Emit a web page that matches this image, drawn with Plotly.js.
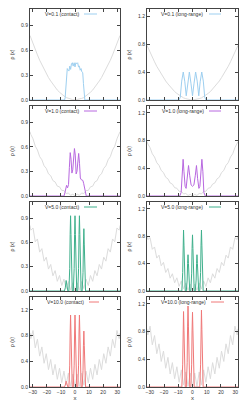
<!DOCTYPE html>
<html><head><meta charset="utf-8">
<script src="https://cdn.plot.ly/plotly-3.0.1.min.js"></script>
<style>html,body{margin:0;padding:0;background:#fff}#chart{width:247px;height:407px}</style>
</head><body><div id="chart"></div>
<script>
// ---- data ----
const xTicks = [-30, -20, -10, 0, 10, 20, 30];
const yTicksContact = [0, 0.3, 0.6, 0.9];
const yTicksLong = [0, 0.4, 0.8, 1.2];

// grey background potential (trap + lattice), sampled at lattice extrema
const potX = [-32, -31.42, -29.85, -28.27, -26.70, -25.13, -23.56, -21.99, -20.42, -18.85, -17.28, -15.71, -14.14, -12.57, -11.00, -9.42, -7.85, -6.28, -4.71, -3.14, -1.57, 0,
  1.57, 3.14, 4.71, 6.28, 7.85, 9.42, 11.00, 12.57, 14.14, 15.71, 17.28, 18.85, 20.42, 21.99, 23.56, 25.13, 26.70, 28.27, 29.85, 31.42, 32];
const potV01 = [.780, .752, .681, .609, .545, .481, .425, .369, .320, .271, .230, .188, .154, .120, .094, .068, .049, .030, .019, .008, .004, 0,
  .004, .008, .019, .030, .049, .068, .094, .120, .154, .188, .230, .271, .320, .369, .425, .481, .545, .609, .681, .752, .780];
const potV1 = [.786, .752, .699, .609, .563, .481, .443, .369, .338, .271, .248, .188, .172, .120, .112, .068, .067, .030, .037, .008, .022, 0,
  .022, .008, .037, .030, .067, .068, .112, .120, .172, .188, .248, .271, .338, .369, .443, .481, .563, .609, .699, .752, .786];
const potV5 = [.810, .752, .779, .609, .643, .481, .523, .369, .418, .271, .328, .188, .252, .120, .192, .068, .147, .030, .117, .008, .102, 0,
  .102, .008, .117, .030, .147, .068, .192, .120, .252, .188, .328, .271, .418, .369, .523, .481, .643, .609, .779, .752, .810];
const potV10 = [.841, .752, .879, .609, .743, .481, .623, .369, .518, .271, .428, .188, .352, .120, .292, .068, .247, .030, .217, .008, .202, 0,
  .202, .008, .217, .030, .247, .068, .292, .120, .352, .188, .428, .271, .518, .369, .623, .481, .743, .609, .879, .752, .841];

// densities
const rhoC01X = [-32, -7.4, -7.0, -6.5, -6.0, -5.5, -4.9, -4.3, -3.7, -3.1, -2.5, -1.9, -1.3, -0.6, 0, 0.6, 1.3, 1.9, 2.5, 3.1, 3.7, 4.3, 4.9, 5.5, 6.0, 6.5, 7.0, 7.4, 32];
const rhoC01Y = [0, 0, 0.03, 0.18, 0.33, 0.38, 0.36, 0.35, 0.41, 0.37, 0.44, 0.45, 0.41, 0.45, 0.40, 0.45, 0.44, 0.45, 0.40, 0.41, 0.36, 0.38, 0.34, 0.33, 0.20, 0.05, 0, 0, 0];

const rhoL01X = [-32, -9.5, -8.6, -7.6, -6.5, -5.4, -4.4, -3.3, -2.2, -1.1, 0, 1.1, 2.2, 3.3, 4.4, 5.4, 6.5, 7.6, 8.6, 9.5, 32];
const rhoL01Y = [0, 0, 0.04, 0.27, 0.40, 0.26, 0.06, 0.27, 0.40, 0.24, 0.06, 0.24, 0.40, 0.27, 0.06, 0.26, 0.40, 0.27, 0.04, 0, 0];

const rhoC1X = [-32, -7.8, -7.2, -6.6, -6.0, -5.3, -4.6, -4.0, -3.4, -2.8, -2.2, -1.6, -1.0, -0.4, 0.2, 0.8, 1.4, 2.0, 2.6, 3.2, 3.8, 4.4, 5.0, 5.6, 6.2, 6.8, 7.4, 8.0, 32];
const rhoC1Y = [0, 0, 0.04, 0.12, 0.13, 0.10, 0.14, 0.35, 0.53, 0.45, 0.28, 0.32, 0.52, 0.58, 0.50, 0.27, 0.30, 0.45, 0.52, 0.40, 0.22, 0.20, 0.19, 0.19, 0.15, 0.10, 0.04, 0, 0];

const rhoL1X = [-32, -9, -8, -7.3, -6.6, -6.0, -5.2, -4.5, -3.6, -2.8, -2.0, -1.0, 0, 1.0, 2.0, 2.8, 3.6, 4.5, 5.2, 6.0, 6.6, 7.3, 8, 9, 32];
const rhoL1Y = [0, 0, 0.05, 0.35, 0.53, 0.35, 0.14, 0.11, 0.25, 0.44, 0.30, 0.16, 0.14, 0.16, 0.30, 0.44, 0.25, 0.11, 0.14, 0.35, 0.53, 0.35, 0.05, 0, 0];

const peakX = [-32, -7.5, -6.9, -6.6, -6.3, -6.0, -5.7, -5.1, -4.35, -3.75, -3.45, -3.15, -2.85, -2.55, -1.95,
  -1.2, -0.6, -0.3, 0, 0.3, 0.6, 1.2, 1.95, 2.55, 2.85, 3.15, 3.45, 3.75, 4.35, 5.1, 5.7, 6.0, 6.3, 6.6, 6.9, 7.5, 32];
const rhoC5Y = [0, 0, .04, .10, .13, .10, .04, 0, 0, .28, .70, .93, .70, .28, 0,
  0, .28, .70, .93, .70, .28, 0, 0, .28, .70, .93, .70, .28, 0, 0, .23, .58, .77, .58, .23, 0, 0];
const rhoL5Y = [0, 0, .27, .67, .89, .67, .27, 0, 0, .16, .40, .53, .40, .16, 0,
  0, .25, .62, .82, .62, .25, 0, 0, .16, .40, .53, .40, .16, 0, 0, .27, .67, .89, .67, .27, 0, 0];
const rhoC10Y = [0, 0, .03, .07, .09, .07, .03, 0, 0, .34, .84, 1.12, .84, .34, 0,
  0, .34, .84, 1.12, .84, .34, 0, 0, .34, .84, 1.12, .84, .34, 0, 0, .26, .65, .87, .65, .26, 0, 0];
const rhoL10Y = [0, 0, .33, .82, 1.09, .82, .33, 0, 0, .35, .88, 1.17, .88, .35, 0,
  0, .32, .81, 1.08, .81, .32, 0, 0, 0, 0, 0, 0, 0, 0, 0, .33, .83, 1.11, .83, .33, 0, 0];

const labels = ['V=0.1 (contact)', 'V=0.1 (long-range)', 'V=1.0 (contact)', 'V=1.0 (long-range)',
  'V=5.0 (contact)', 'V=5.0 (long-range)', 'V=10.0 (contact)', 'V=10.0 (long-range)'];
const colors = ['#9dcff0', '#9dcff0', '#b868e0', '#b868e0', '#3fb08c', '#3fb08c', '#f07878', '#f07878'];

// ---- layout geometry (pixels) ----
const W = 247, H = 407;
const colPx = [[30, 120], [147, 238]];
const rowPx = [[9, 100], [106, 196], [202, 291], [297, 387]];
const yRanges = [[0, 1.1], [0, 1.3], [0, 1.1], [0, 1.3], [0, 1.1], [0, 1.3], [0, 1.4], [0, 1.3]];
const keyPx = [[81, 84, 97], [205, 209, 221], [81, 84, 97], [206, 209, 221], [81, 84, 97], [205, 209, 221], [86, 89, 99], [208, 211, 224]];

const panels = [
  {potY: potV01, rx: rhoC01X, ry: rhoC01Y},
  {potY: potV01, rx: rhoL01X, ry: rhoL01Y},
  {potY: potV1, rx: rhoC1X, ry: rhoC1Y},
  {potY: potV1, rx: rhoL1X, ry: rhoL1Y},
  {potY: potV5, rx: peakX, ry: rhoC5Y},
  {potY: potV5, rx: peakX, ry: rhoL5Y},
  {potY: potV10, rx: peakX, ry: rhoC10Y},
  {potY: potV10, rx: peakX, ry: rhoL10Y}
];

const frame = '#444';
const font = 'Liberation Sans, Arial, sans-serif';
const traces = [];
const layout = {
  width: W, height: H, autosize: false,
  margin: {l: 0, r: 0, t: 0, b: 0},
  paper_bgcolor: '#fff', plot_bgcolor: '#fff',
  showlegend: false,
  font: {family: font, size: 5, color: '#333'},
  annotations: [], shapes: []
};

panels.forEach((p, i) => {
  const s = i === 0 ? '' : String(i + 1);
  const row = Math.floor(i / 2), col = i % 2;
  traces.push({x: potX, y: p.potY, xaxis: 'x' + s, yaxis: 'y' + s, type: 'scatter', mode: 'lines',
    line: {color: '#dcdcdc', width: 1}, hoverinfo: 'skip'});
  traces.push({x: p.rx, y: p.ry, xaxis: 'x' + s, yaxis: 'y' + s, type: 'scatter', mode: 'lines',
    name: labels[i], line: {color: colors[i], width: 1}});
  const cx = colPx[col], ry = rowPx[row];
  const bottom = row === 3;
  const yt = (col === 0 && row < 3) ? yTicksContact : yTicksLong;
  layout['xaxis' + s] = {
    domain: [cx[0] / W, cx[1] / W], anchor: 'y' + s, range: [-32, 32],
    tickmode: 'array', tickvals: xTicks, showticklabels: bottom,
    ticks: 'inside', ticklen: 3, tickcolor: frame, tickwidth: 1,
    showline: true, mirror: 'ticks', linecolor: frame, linewidth: 1,
    showgrid: false, zeroline: false, tickfont: {size: 5, color: '#333'},
    title: bottom ? {text: 'x', font: {size: 6, color: '#333'}, standoff: 1} : {text: ''}
  };
  layout['yaxis' + s] = {
    domain: [1 - ry[1] / H, 1 - ry[0] / H], anchor: 'x' + s, range: yRanges[i],
    tickmode: 'array', tickvals: yt, tickformat: '.1f',
    ticks: 'inside', ticklen: 3, tickcolor: frame, tickwidth: 1,
    showline: true, mirror: 'ticks', linecolor: frame, linewidth: 1,
    showgrid: false, zeroline: false, tickfont: {size: 5, color: '#333'},
    title: {text: 'ρ (x)', font: {size: 5, color: '#333'}, standoff: 6}
  };
  const k = keyPx[i];
  const ky = 1 - (ry[0] + 5) / H;
  layout.annotations.push({xref: 'paper', yref: 'paper', x: k[0] / W, y: ky, xanchor: 'right', yanchor: 'middle',
    text: labels[i], showarrow: false, font: {size: 5, color: '#333', family: font}});
  layout.shapes.push({type: 'line', xref: 'paper', yref: 'paper', x0: k[1] / W, x1: k[2] / W, y0: ky, y1: ky,
    line: {color: colors[i], width: 1}});
});

Plotly.newPlot('chart', traces, layout, {displayModeBar: false, staticPlot: true});
</script></body></html>
